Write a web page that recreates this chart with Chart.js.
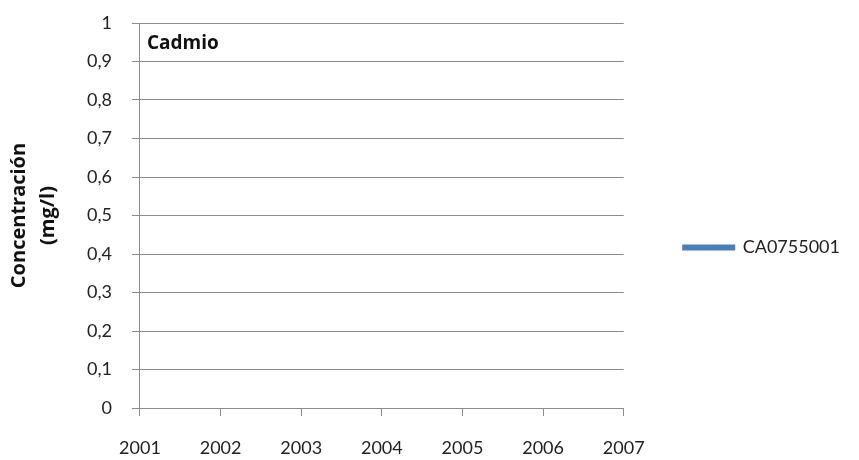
<!DOCTYPE html>
<html>
<head>
<meta charset="utf-8">
<script src="https://cdn.jsdelivr.net/npm/chart.js@4.4.1/dist/chart.umd.min.js"></script>
<style>
  html, body { margin: 0; padding: 0; background: #fff; }
  #wrap { width: 859px; height: 460px; }
</style>
</head>
<body>
<div id="wrap"><canvas id="chart"></canvas></div>
<script>
// chart data
const years = ['2001', '2002', '2003', '2004', '2005', '2006', '2007'];
const seriesName = 'CA0755001';
// no measurements plotted for this station
const cadmio = [null, null, null, null, null, null, null];
const chartTitle = 'Cadmio';
const yTitle = ['Concentración', '(mg/l)'];

const gridGray = '#8c8c8c';
const textColor = '#222';

// draws the "Cadmio" label inside the plot area
const innerTitle = {
    id: 'innerTitle',
    afterDraw(chart) {
        const { ctx, chartArea } = chart;
        ctx.save();
        ctx.font = 'bold 19px "Open Sans"';
        ctx.fillStyle = '#111';
        ctx.textBaseline = 'middle';
        ctx.fillText(chartTitle, chartArea.left + 7, chartArea.top + 21);
        ctx.restore();
    }
};

const ctx = document.getElementById('chart').getContext('2d');
new Chart(ctx, {
    type: 'line',
    data: {
        labels: years,
        datasets: [{
            label: seriesName,
            data: cadmio,
            borderColor: '#4a7ebb',
            backgroundColor: '#4a7ebb',
            borderWidth: 3,
            pointRadius: 0
        }]
    },
    options: {
        responsive: true,
        maintainAspectRatio: false,
        animation: false,
        layout: { padding: { left: 5, right: 9, top: 23, bottom: 0 } },
        plugins: {
            legend: {
                position: 'right',
                align: 'center',
                maxWidth: 300,
                title: { display: true, text: ' ', padding: 0, font: { size: 10, lineHeight: 1.2 } },
                labels: {
                    boxWidth: 50,
                    boxHeight: 3,
                    padding: 60,
                    color: textColor,
                    font: { family: 'Lato', size: 18 }
                }
            },
            tooltip: { enabled: false }
        },
        scales: {
            x: {
                offset: false,
                afterFit: scale => { scale.height = 52; },
                grid: {
                    display: true,
                    drawOnChartArea: false,
                    drawTicks: true,
                    tickLength: 8,
                    color: gridGray
                },
                border: { color: gridGray, width: 1 },
                ticks: {
                    color: textColor,
                    padding: 21,
                    maxRotation: 0,
                    font: { family: 'Lato', size: 18 }
                }
            },
            y: {
                min: 0,
                max: 1,
                afterFit: scale => { scale.paddingTop = 0; scale.paddingBottom = 0; },
                grid: {
                    color: gridGray,
                    tickLength: 8
                },
                border: { color: gridGray, width: 1 },
                ticks: {
                    stepSize: 0.1,
                    color: textColor,
                    padding: 20,
                    font: { family: 'Lato', size: 18 },
                    callback: v => (Math.round(v * 10) / 10).toString().replace('.', ',')
                },
                title: {
                    display: true,
                    text: yTitle,
                    color: '#111',
                    padding: { top: 0, bottom: 4 },
                    font: { family: 'Open Sans', size: 20, weight: 'bold', lineHeight: 1.45 }
                }
            }
        }
    },
    plugins: [innerTitle]
});
</script>
</body>
</html>
